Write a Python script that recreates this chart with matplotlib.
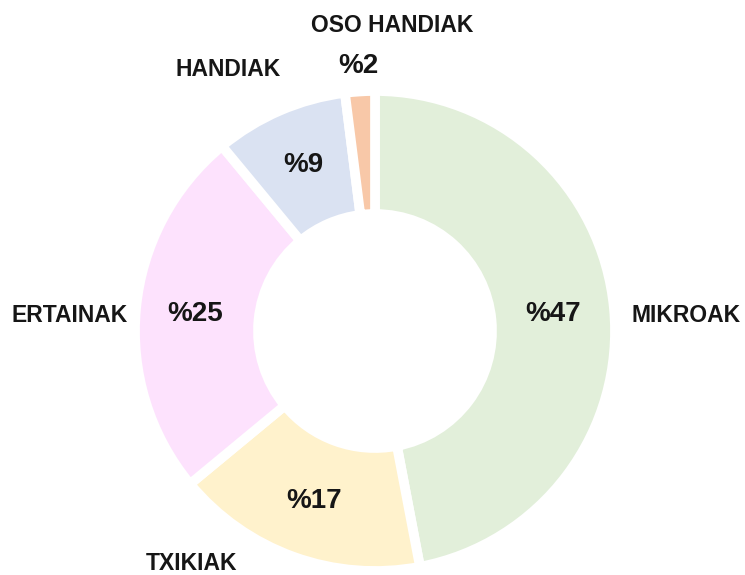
import numpy as np
import matplotlib
matplotlib.use("Agg")
import matplotlib.pyplot as plt

categories = ["MIKROAK", "TXIKIAK", "ERTAINAK", "HANDIAK", "OSO HANDIAK"]
values = [47, 17, 25, 9, 2]
pct_labels = ["%47", "%17", "%25", "%9", "%2"]
colors = ["#E2EFDA", "#FFF2CC", "#FDE2FD", "#DAE2F2", "#F8C8A8"]

W, H = 745, 575
CX, CY, R = 375, 331, 235  # pie centre / radius in pixels

fig = plt.figure(figsize=(W / 100, H / 100), dpi=100)
ax = fig.add_axes([0, 0, 1, 1])

outer = 240 / R
inner = 117 / R
wedges, _ = ax.pie(values, colors=colors, startangle=90, counterclock=False,
                   radius=outer,
                   wedgeprops=dict(width=outer - inner, edgecolor="white", linewidth=7))

ax.set_xlim(-CX / R, (W - CX) / R)
ax.set_ylim(-(H - CY) / R, CY / R)
ax.set_aspect("equal", adjustable="box")
ax.axis("off")

font = ["Liberation Sans", "DejaVu Sans"]

# percentage labels
pct_radius = [0.76, 0.77, 0.77, 0.77, 1.13]
for w, lab, rr in zip(wedges, pct_labels, pct_radius):
    ang = np.deg2rad((w.theta1 + w.theta2) / 2)
    ax.text(rr * np.cos(ang), rr * np.sin(ang), lab, ha="center", va="center",
            fontsize=20, fontweight="bold", color="#161616", family=font)

# category labels (pixel positions of label centres)
cat_pos = [(686, 316), (192, 563), (70, 316), (228, 70), (392, 26)]
for lab, (px, py) in zip(categories, cat_pos):
    ax.text((px - CX) / R, (CY - py) / R, lab, ha="center", va="center",
            fontsize=16.5, fontweight="bold", color="#161616", family=font)

fig.savefig("out.png", dpi=100, facecolor="white")
